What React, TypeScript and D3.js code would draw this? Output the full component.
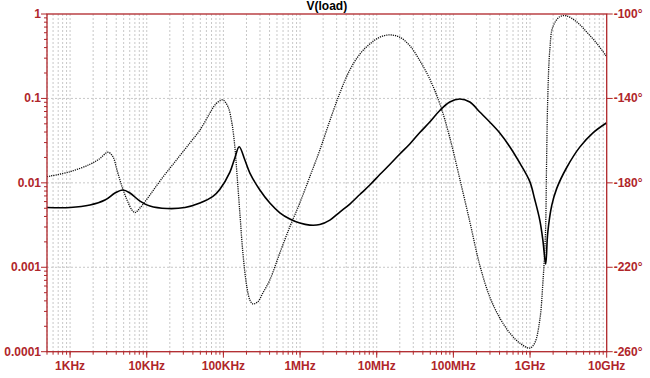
import React from "react";
import * as d3 from "d3";

// magnitude trace (solid), V
const magFreq = [
  500, 1000, 1820, 2850, 3850, 4900, 6040, 8160, 11000, 18400, 31500, 49400, 73000, 90100,
  121600, 141000, 160700, 190600, 221600, 299000, 403600, 545000, 736000, 993000,
  1.34e6, 1.81e6, 2.45e6, 3.3e6, 4.46e6, 6.02e6, 8.13e6, 1.097e7, 1.48e7, 2.0e7, 2.7e7,
  3.65e7, 4.92e7, 6.65e7, 8.97e7, 1.21e8, 1.64e8, 2.21e8, 2.98e8, 4.03e8, 5.44e8, 7.34e8,
  9.91e8, 1.15e9, 1.34e9, 1.47e9, 1.6e9, 1.7e9, 1.92e9, 2.23e9, 3.01e9, 4.45e9, 6.57e9, 1e10,
];
const magValue = [
  0.0051, 0.0051, 0.00546, 0.00625, 0.00757, 0.00822, 0.00757, 0.00608, 0.00531, 0.00496,
  0.0051, 0.00576, 0.0069, 0.0084, 0.0134, 0.0197, 0.0268, 0.01862, 0.01306, 0.00822,
  0.00576, 0.00442, 0.00373, 0.00334, 0.00316, 0.00321, 0.00362, 0.00451, 0.00561, 0.00727,
  0.00942, 0.01254, 0.01648, 0.02194, 0.02884, 0.03945, 0.0525, 0.0719, 0.0906, 0.0984,
  0.0906, 0.069, 0.0525, 0.0389, 0.0268, 0.0172, 0.0104, 0.0064, 0.00362, 0.0021,
  0.00109, 0.00254, 0.0054, 0.0086, 0.0152, 0.0265, 0.0389, 0.0515,
];

// phase trace (dotted), degrees
const phaseFreq = [
  500, 1000, 1820, 2400, 3120, 3620, 4090, 4760, 5530, 6420, 7020, 8160, 11000, 14900,
  23300, 36600, 49400, 66700, 77500, 90100, 98600, 114600, 129000, 141000, 150000, 164000,
  179600, 202000, 221600, 242500, 281800, 327000, 403600, 545000, 736000, 993000, 1.34e6,
  1.81e6, 2.45e6, 3.3e6, 4.46e6, 6.02e6, 8.13e6, 1.097e7, 1.48e7, 2.0e7, 2.7e7, 3.65e7,
  4.92e7, 6.65e7, 8.97e7, 1.21e8, 1.64e8, 2.21e8, 2.98e8, 4.03e8, 5.44e8, 7.34e8, 9.91e8,
  1.15e9, 1.34e9, 1.47e9, 1.59e9, 1.64e9, 1.7e9, 1.81e9, 1.98e9, 2.44e9, 2.98e9, 4.03e9,
  5.44e9, 7.34e9, 1e10,
];
const phaseValue = [
  -177.1, -174.7, -171.2, -168.7, -165.5, -167.6, -173.9, -181.8, -188.1, -192.9, -194.1,
  -191.9, -185.8, -179.1, -170.1, -161.1, -155.0, -146.9, -143.1, -141.1, -140.7, -143.9,
  -151.6, -162.9, -175.3, -194.3, -213.2, -229.2, -235.5, -237.4, -236.3, -232.2, -226.0,
  -213.2, -200.8, -189.5, -177.1, -164.5, -150.5, -137.5, -126.5, -119.0, -114.2, -111.0,
  -109.9, -111.0, -115.0, -122.1, -130.8, -142.5, -158.5, -178.0, -198.5, -219.0, -234.0,
  -244.0, -251.1, -255.9, -258.3, -255.9, -245.0, -227.5, -203.8, -172.5, -140.7, -117.1,
  -106.2, -101.3, -100.9, -103.6, -108.4, -113.7, -120.2,
];

const magTicks = [1, 0.1, 0.01, 0.001, 0.0001];
const magTickLabels = ["1", "0.1", "0.01", "0.001", "0.0001"];
const phaseTicks = [-100, -140, -180, -220, -260];
const freqTicks = [1e3, 1e4, 1e5, 1e6, 1e7, 1e8, 1e9, 1e10];
const freqLabels = ["1KHz", "10KHz", "100KHz", "1MHz", "10MHz", "100MHz", "1GHz", "10GHz"];

const W = 650;
const H = 378;
const left = 47;
const right = 606.7;
const top = 14;
const bottom = 351.7;
const red = "#b0262a";
const font = "Arial, 'Liberation Sans', sans-serif";

export default function App() {
  const x = d3.scaleLog().domain([500, 1e10]).range([left, right]);
  const yMag = d3.scaleLog().domain([1e-4, 1]).range([bottom, top]);
  const yPh = d3.scaleLinear().domain([-260, -100]).range([bottom, top]);

  // every 1..9 x 10^n inside the frequency span
  const freqMinor: number[] = [];
  for (let e = 2; e <= 9; e++)
    for (let k = 1; k <= 9; k++) {
      const f = k * Math.pow(10, e);
      if (f >= 500 && f <= 1e10) freqMinor.push(f);
    }
  const magMinor: number[] = [];
  for (let e = -4; e < 0; e++)
    for (let k = 2; k <= 9; k++) magMinor.push(k * Math.pow(10, e));

  const magLine = d3
    .line<number>()
    .x((_, i) => x(magFreq[i]))
    .y((d) => yMag(d))
    .curve(d3.curveCatmullRom.alpha(0.5));
  const phLine = d3
    .line<number>()
    .x((_, i) => x(phaseFreq[i]))
    .y((d) => yPh(d))
    .curve(d3.curveCatmullRom.alpha(0.5));

  return (
    <svg
      width={W}
      height={H}
      style={{ position: "absolute", left: 0, top: 0, background: "#fff" }}
      fontFamily={font}
    >
      <text x={(left + right) / 2} y={10} textAnchor="middle" fontSize={12} fontWeight="bold">
        V(load)
      </text>

      {/* grid */}
      <g stroke="#c8c8c8" strokeWidth={1} strokeDasharray="2,2">
        {freqMinor.map((f) => (
          <line key={"gx" + f} x1={x(f)} x2={x(f)} y1={top} y2={bottom} />
        ))}
        {magTicks.slice(1, -1).map((m) => (
          <line key={"gy" + m} x1={left} x2={right} y1={yMag(m)} y2={yMag(m)} />
        ))}
      </g>

      {/* traces */}
      <path d={phLine(phaseValue) || ""} fill="none" stroke="#111" strokeWidth={1.3} strokeDasharray="1.2,1" />
      <path d={magLine(magValue) || ""} fill="none" stroke="#000" strokeWidth={1.6} />

      {/* frame */}
      <rect x={left} y={top} width={right - left} height={bottom - top} fill="none" stroke={red} strokeWidth={1.3} />

      {/* left axis */}
      <g stroke={red} strokeWidth={1}>
        {magMinor.map((m) => (
          <line key={"lm" + m} x1={left - 3} x2={left} y1={yMag(m)} y2={yMag(m)} />
        ))}
        {magTicks.map((m) => (
          <line key={"lM" + m} x1={left - 6} x2={left} y1={yMag(m)} y2={yMag(m)} />
        ))}
      </g>
      <g fill={red} fontSize={12} fontWeight="bold" textAnchor="end">
        {magTicks.map((m, i) => (
          <text key={"lt" + m} x={left - 6} y={yMag(m) + 4}>
            {magTickLabels[i]}
          </text>
        ))}
      </g>

      {/* bottom axis */}
      <g stroke={red} strokeWidth={1}>
        {freqMinor.map((f) => (
          <line key={"bm" + f} x1={x(f)} x2={x(f)} y1={bottom} y2={bottom + 3} />
        ))}
        {freqTicks.map((f) => (
          <line key={"bM" + f} x1={x(f)} x2={x(f)} y1={bottom} y2={bottom + 6} />
        ))}
      </g>
      <g fill={red} fontSize={12} fontWeight="bold" textAnchor="middle">
        {freqTicks.map((f, i) => (
          <text key={"bt" + f} x={x(f)} y={bottom + 18}>
            {freqLabels[i]}
          </text>
        ))}
      </g>

      {/* right axis */}
      <g stroke={red} strokeWidth={1}>
        {phaseTicks.map((p) => (
          <line key={"rM" + p} x1={right} x2={right + 6} y1={yPh(p)} y2={yPh(p)} />
        ))}
      </g>
      <g fill={red} fontSize={12} fontWeight="bold" textAnchor="start">
        {phaseTicks.map((p) => (
          <text key={"rt" + p} x={right + 7} y={yPh(p) + 4}>
            {p + "°"}
          </text>
        ))}
      </g>
    </svg>
  );
}
